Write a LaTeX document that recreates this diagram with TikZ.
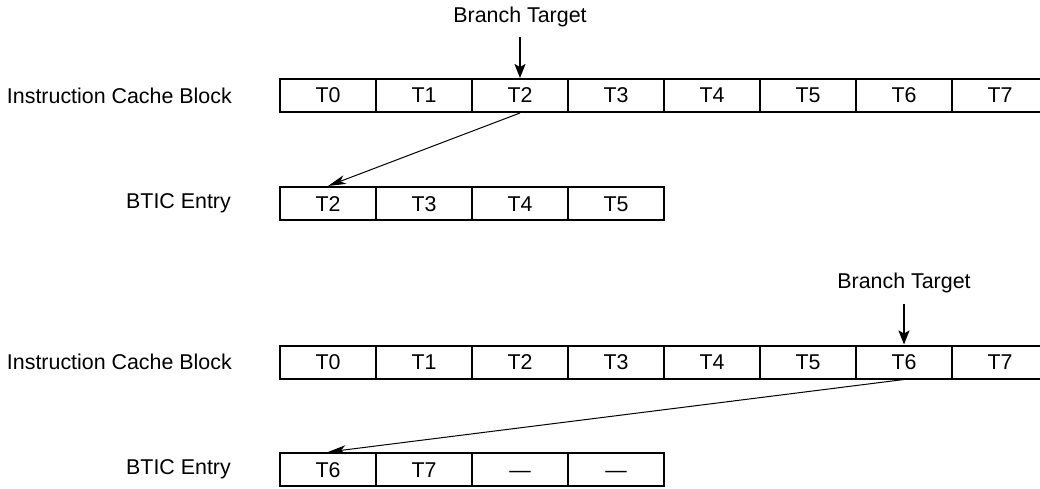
\documentclass[tikz,border=0pt]{standalone}
\usepackage{fontspec}
\setmainfont{Liberation Sans}
\usetikzlibrary{arrows.meta}

\tikzset{
    cachecell/.style={draw, line width=2pt, minimum width=96pt, minimum height=33pt, inner sep=0pt,
        text height=15pt, text depth=0pt},
    rowlabel/.style={anchor=east, inner sep=0pt},
    targetlabel/.style={anchor=base, inner sep=0pt},
    targetarrow/.style={line width=1.8pt, -{Stealth[length=14pt, width=11pt, inset=3pt]}},
    fillarrow/.style={line width=1pt, -{Stealth[length=18pt, width=9pt, inset=5pt]}}
}

\begin{document}
\begin{tikzpicture}[x=1pt, y=-1pt, font=\fontsize{21.4}{25}\selectfont]
    \useasboundingbox (0, 0) rectangle (1040, 489);

    % upper example
    \foreach \i in {0,...,7}
        \node[cachecell] (a\i) at ({328+96*\i}, 95.5) {T\i};
    \foreach \t [count=\i from 0] in {T2, T3, T4, T5}
        \node[cachecell] (b\i) at ({328+96*\i}, 203.5) {\t};
    \node[rowlabel] (la) at (232, 95.5) {Instruction Cache Block};
    \node[rowlabel] (lb) at (231, 203.5) {BTIC Entry};
    \node[targetlabel] (ta) at (520, 23) {Branch Target};
    \draw[targetarrow] ([yshift=-14pt]ta.base) -- (a2.north);
    \draw[fillarrow] (a2.south) -- (b0.north);

    % lower example
    \foreach \i in {0,...,7}
        \node[cachecell] (c\i) at ({328+96*\i}, 362) {T\i};
    \foreach \t [count=\i from 0] in {T6, T7, —, —}
        \node[cachecell] (d\i) at ({328+96*\i}, 469.5) {\t};
    \node[rowlabel] (lc) at (232, 362) {Instruction Cache Block};
    \node[rowlabel] (ld) at (231, 469.5) {BTIC Entry};
    \node[targetlabel] (tb) at (904, 288) {Branch Target};
    \draw[targetarrow] ([yshift=-16pt]tb.base) -- (c6.north);
    \draw[fillarrow] (c6.south) -- (d0.north);
\end{tikzpicture}
\end{document}
